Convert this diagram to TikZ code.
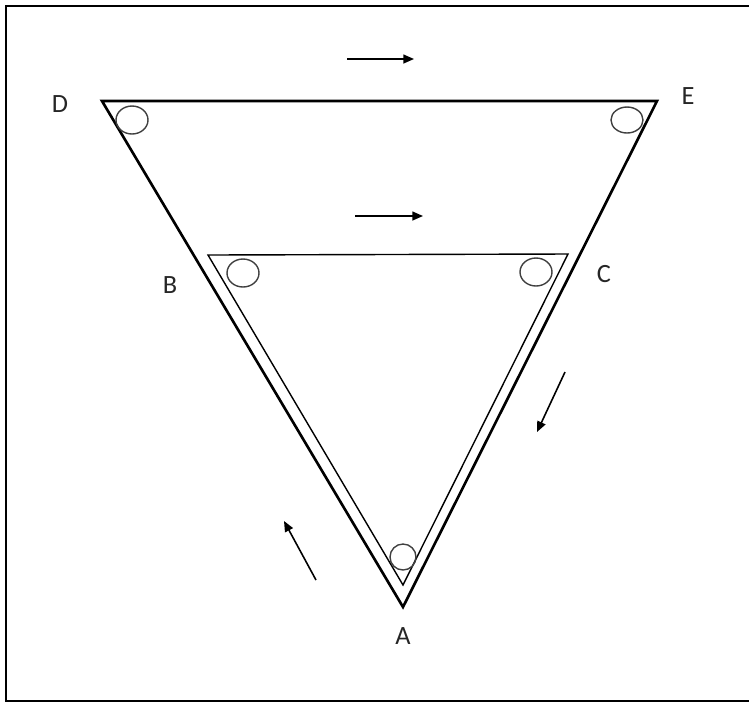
\documentclass[tikz,border=0pt]{standalone}
\usepackage{fontspec}
\setmainfont{Carlito}
\usetikzlibrary{arrows.meta}
\tikzset{
  outerline/.style={line width=1.5pt, line join=miter},
  innerline/.style={line width=0.8pt, line join=miter},
  pulley/.style={line width=0.8pt, black!75},
  flow/.style={line width=0.9pt, -{Triangle[length=6pt, width=5pt]}},
  vlabel/.style={font=\fontsize{15}{17}\selectfont, black!85}
}
\begin{document}
\begin{tikzpicture}[x=0.02cm, y=-0.02cm]
  \useasboundingbox (0,0) rectangle (749,704);
  \clip (0,0) rectangle (749,704);
  \draw[line width=1.2pt] (6,6) rectangle (760,701);
  % outer triangle
  \coordinate (D) at (102,101);
  \coordinate (E) at (657,101);
  \coordinate (A) at (403,607);
  \draw[outerline] (D) -- (E) -- (A) -- cycle;
  % inner triangle
  \coordinate (B) at (208,255);
  \coordinate (C) at (568,254);
  \coordinate (Ai) at (403,585);
  \draw[innerline] (B) -- (C) -- (Ai) -- cycle;
  % pulleys
  \draw[pulley] (132,120) ellipse [x radius=16, y radius=14];
  \draw[pulley] (627,120) ellipse [x radius=16, y radius=13];
  \draw[pulley] (243,273) ellipse [x radius=16, y radius=14];
  \draw[pulley] (536,272) ellipse [x radius=16, y radius=14];
  \draw[pulley] (403,557) circle [radius=13];
  % labels
  \node[vlabel] (labD) at (60,104) {D};
  \node[vlabel] (labE) at (688,96) {E};
  \node[vlabel] (labB) at (170,285) {B};
  \node[vlabel] (labC) at (604,274) {C};
  \node[vlabel] (labA) at (403,636) {A};
  % direction arrows
  \coordinate (t1) at (347,59);  \coordinate (t2) at (414,59);
  \coordinate (m1) at (355,216); \coordinate (m2) at (423,216);
  \coordinate (l1) at (316,580); \coordinate (l2) at (284,521);
  \coordinate (r1) at (565,372); \coordinate (r2) at (537,432);
  \draw[flow] (t1) -- (t2);
  \draw[flow] (m1) -- (m2);
  \draw[flow] (l1) -- (l2);
  \draw[flow] (r1) -- (r2);
\end{tikzpicture}
\end{document}
